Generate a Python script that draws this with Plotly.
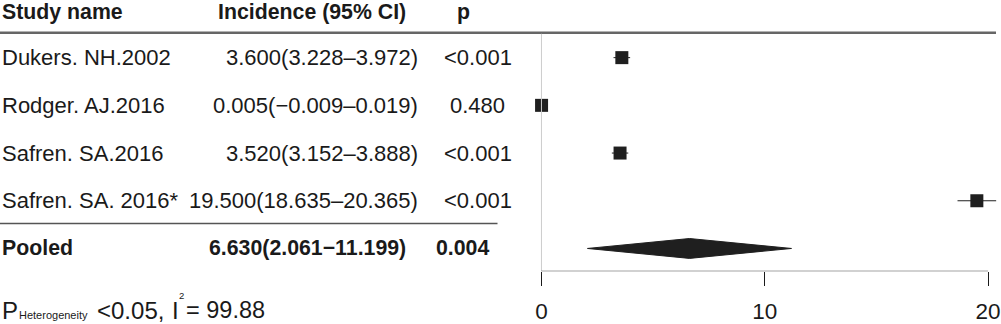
import plotly.graph_objects as go

studies = ["Dukers. NH.2002", "Rodger. AJ.2016", "Safren. SA.2016", "Safren. SA. 2016*"]
est = [3.600, 0.005, 3.520, 19.500]
lo = [3.228, -0.009, 3.152, 18.635]
hi = [3.972, 0.019, 3.888, 20.365]
pvals = ["<0.001", "0.480", "<0.001", "<0.001"]
pooled_label = "Pooled"
pooled_est, pooled_lo, pooled_hi = 6.630, 2.061, 11.199
pooled_p = "0.004"
tick_vals = [0, 10, 20]
het_p = "<0.05,"
i2 = "99.88"

W, H = 1001, 324
TXT = "#1a1a1a"
FONT = "Liberation Sans, Arial, Helvetica, sans-serif"
FS = 22
FSB = 21.3
FSF = 24

x0_px, x20_px = 542, 989
ppu = (x20_px - x0_px) / 20.0
xr = [-x0_px / ppu, (W - x0_px) / ppu]
row0_px, row_step = 58, 48
axis_px = 273
def ypx(p):
    return (p - row0_px) / row_step
yr = [ypx(axis_px), ypx(0)]

rows = list(range(len(studies)))
pooled_row = len(studies)

fig = go.Figure()

fig.add_trace(go.Scatter(
    x=est, y=rows, mode="markers",
    marker=dict(symbol="square", size=13, color="#1f1f1f"),
    error_x=dict(type="data", symmetric=False,
                 array=[h - e for h, e in zip(hi, est)],
                 arrayminus=[e - l for e, l in zip(est, lo)],
                 thickness=1, width=0, color="#1f1f1f"),
    cliponaxis=False, hoverinfo="skip", showlegend=False))

hh = 10 / row_step
fig.add_trace(go.Scatter(
    x=[pooled_lo, pooled_est, pooled_hi, pooled_est, pooled_lo],
    y=[pooled_row, pooled_row - hh, pooled_row, pooled_row + hh, pooled_row],
    mode="lines", fill="toself", fillcolor="#1f1f1f",
    line=dict(color="#1f1f1f", width=1), hoverinfo="skip", showlegend=False))

shapes = [
    dict(type="line", xref="paper", yref="y", x0=0, x1=997 / W,
         y0=ypx(33), y1=ypx(33), line=dict(color="#666666", width=2.5)),
    dict(type="line", xref="x", yref="y", x0=0, x1=0,
         y0=ypx(34), y1=ypx(axis_px), line=dict(color="#cccccc", width=1)),
    dict(type="line", xref="paper", yref="y", x0=0, x1=498 / W,
         y0=ypx(225), y1=ypx(225), line=dict(color="#555555", width=1.5)),
    dict(type="line", xref="x", yref="y", x0=tick_vals[0], x1=tick_vals[-1],
         y0=ypx(axis_px), y1=ypx(axis_px), line=dict(color="#1a1a1a", width=1)),
]
fig.update_layout(shapes=shapes)

ann = []
def add(text, xp, y, anchor, bold=False, size=None, yref="y"):
    t = f"<b>{text}</b>" if bold else text
    fs = size if size else (FSB if bold else FS)
    ann.append(dict(text=t, xref="paper", yref=yref, x=xp / W, y=y,
                    xanchor=anchor, yanchor="middle", showarrow=False,
                    borderpad=0, borderwidth=0,
                    font=dict(family=FONT, size=fs, color=TXT)))

def pyp(p):
    return 1 - p / H

hdr_y = ypx(12)
add("Study name", 2, hdr_y, "left", True)
add("Incidence (95% CI)", 406, hdr_y, "right", True)
add("p", 464, hdr_y, "center", True)

for i, (s, e, l, h, p) in enumerate(zip(studies, est, lo, hi, pvals)):
    add(s, 2, i, "left")
    add(f"{e:.3f}({l:.3f}–{h:.3f})".replace("-0", "−0"), 418, i, "right")
    add(p, 478, i, "center")

add(pooled_label, 2, pooled_row, "left", True)
add(f"{pooled_est:.3f}({pooled_lo:.3f}−{pooled_hi:.3f})", 406, pooled_row, "right", True)
add(pooled_p, 463, pooled_row, "center", True)

# footer: P_Heterogeneity <0.05, I^2 = 99.88  (paper-referenced, below the axis)
add("P", 2, pyp(312), "left", size=FSF, yref="paper")
add("Heterogeneity", 19, pyp(317), "left", size=11, yref="paper")
add(het_p.replace("<", "&lt;"), 97, pyp(312), "left", size=FSF, yref="paper")
add("I", 172, pyp(312), "left", size=FSF, yref="paper")
add("2", 179, pyp(297.5), "left", size=9.5, yref="paper")
add("= " + i2, 186, pyp(312), "left", size=23.5, yref="paper")

fig.update_layout(annotations=ann)

fig.update_layout(
    width=W, height=H,
    margin=dict(l=0, r=0, t=0, b=0),
    paper_bgcolor="white", plot_bgcolor="white",
    xaxis=dict(range=xr, domain=[0, 1], tickvals=tick_vals,
               ticktext=[str(v) for v in tick_vals],
               ticks="outside", ticklen=14, tickwidth=1, tickcolor="#1a1a1a",
               ticklabelstandoff=6, ticklabeloverflow="allow",
               showgrid=False, zeroline=False, showline=False,
               tickfont=dict(family=FONT, size=22.5, color=TXT)),
    yaxis=dict(range=yr, domain=[(H - axis_px) / H, 1], visible=False,
               showgrid=False, zeroline=False),
)

fig.write_html("out.html", config={"displayModeBar": False},
               post_script="document.body.style.margin='0px';")
